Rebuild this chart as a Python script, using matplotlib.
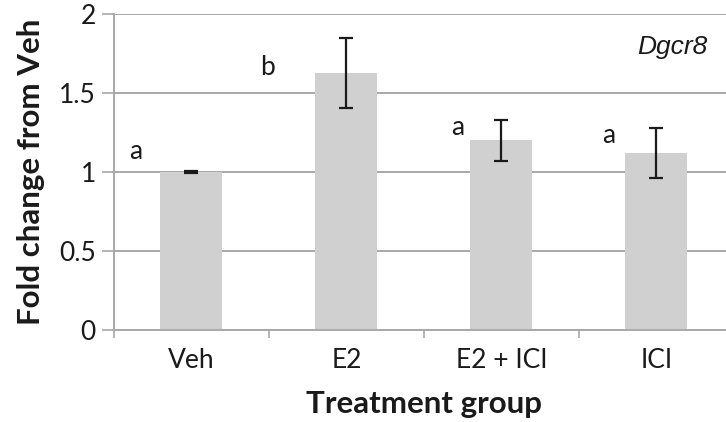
import numpy as np
import matplotlib.pyplot as plt

groups = ["Veh", "E2", "E2 + ICI", "ICI"]
fold_change = [1.0, 1.625, 1.20, 1.12]
sem = [0.008, 0.22, 0.13, 0.16]
letters = ["a", "b", "a", "a"]
# letter positions relative to each bar (x offset, y value)
letter_dx = [-0.36, -0.51, -0.28, -0.31]
letter_y = [1.13, 1.66, 1.28, 1.23]

plt.rcParams['font.family'] = ['Lato', 'DejaVu Sans']

fig = plt.figure(figsize=(7.26, 4.22), dpi=100)
ax = fig.add_axes([0.157, 0.218, 0.854, 0.749])

x = np.arange(len(groups))
grid_c = '#a8a8a8'
ax.bar(x, fold_change, width=0.4, color='#d0d0d0', zorder=2)
ax.errorbar(x, fold_change, yerr=sem, fmt='none', ecolor='#1a1a1a',
            elinewidth=1.6, capsize=4.8, capthick=1.6, zorder=3)

for i in range(len(groups)):
    ax.text(x[i] + letter_dx[i], letter_y[i], letters[i], fontsize=19,
            ha='center', va='center', color='#1a1a1a')

ax.text(3.33, 1.79, "Dgcr8", fontsize=19, style='italic',
        family='Liberation Sans', ha='right', va='center', color='#1a1a1a')

ax.set_xlim(-0.5, 3.5)
ax.set_ylim(0, 2)
ax.set_yticks([0, 0.5, 1, 1.5, 2])
ax.set_yticklabels(["0", "0.5", "1", "1.5", "2"])
ax.set_xticks(x)
ax.set_xticklabels(groups)
ax.set_xticks(np.arange(-0.5, 4.0, 1.0), minor=True)
ax.tick_params(axis='x', which='major', length=0, pad=13, labelsize=19,
               labelcolor='#1a1a1a')
ax.tick_params(axis='x', which='minor', length=6, width=1.2, color=grid_c,
               direction='out')
ax.tick_params(axis='y', length=9, width=1.2, color=grid_c, pad=4,
               labelsize=19, labelcolor='#1a1a1a')

ax.yaxis.grid(True, color=grid_c, linewidth=1.4, zorder=0)
ax.set_axisbelow(True)
for s in ['top', 'right']:
    ax.spines[s].set_visible(False)
for s in ['left', 'bottom']:
    ax.spines[s].set_color(grid_c)
    ax.spines[s].set_linewidth(1.4)

ax.set_ylabel("Fold change from Veh", fontsize=22.5, fontweight='bold',
              color='#1a1a1a', labelpad=10)
ax.set_xlabel("Treatment group", fontsize=22.5, fontweight='bold',
              color='#1a1a1a', labelpad=12)

fig.savefig("out.png", dpi=100)
